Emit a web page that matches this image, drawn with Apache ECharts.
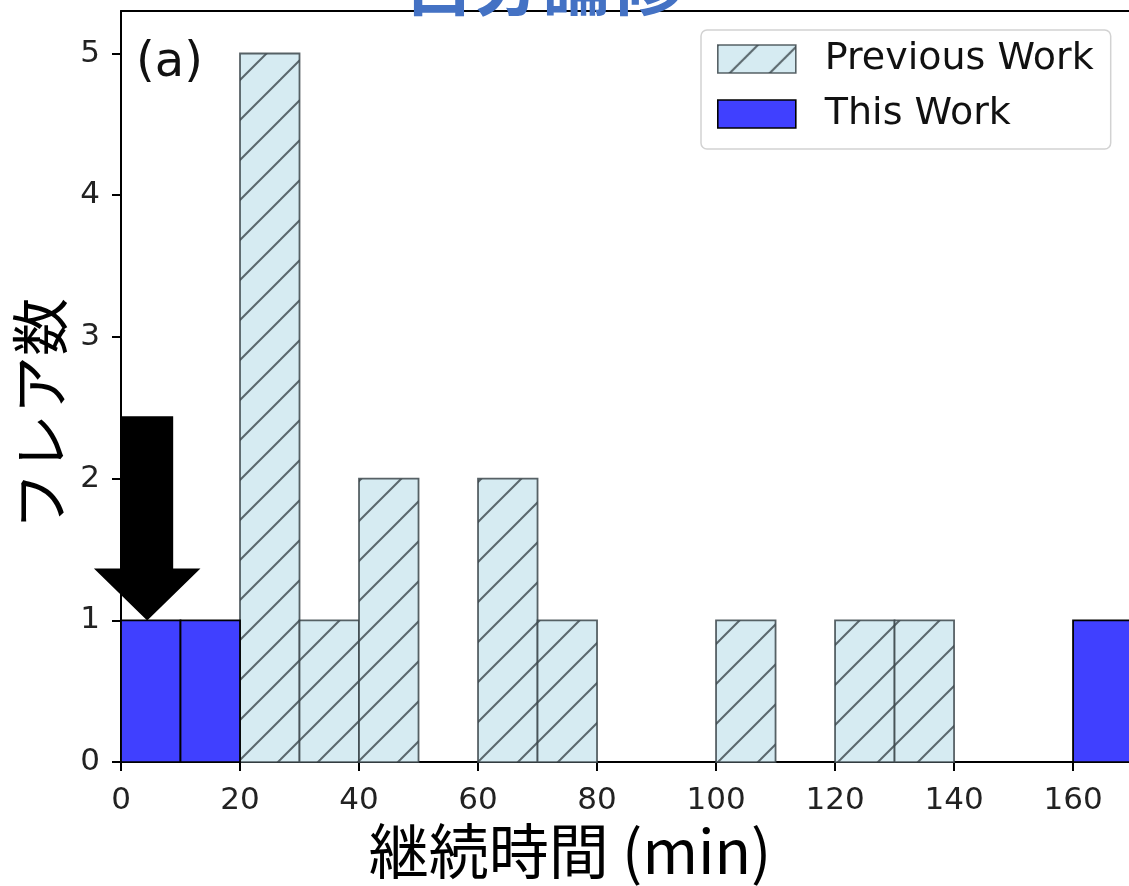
<!DOCTYPE html>
<html>
<head>
<meta charset="utf-8">
<script src="https://cdn.jsdelivr.net/npm/echarts@6/dist/echarts.min.js"></script>
<style>
html,body{margin:0;padding:0;background:#fff;}
#chart{width:1129px;height:886px;}
</style>
</head>
<body>
<div id="chart"></div>
<script>
// ---- data ----
const binStarts = [0,10,20,30,40,50,60,70,80,90,100,110,120,130,140,150,160];
const binWidth = 10;
const previousWorkCounts = [0,0,5,1,2,0,2,1,0,0,1,0,1,1,0,0,0];
const thisWorkCounts     = [1,1,0,0,0,0,0,0,0,0,0,0,0,0,0,0,1];
const xTickValues = [0,20,40,60,80,100,120,140,160];
const yTickValues = [0,1,2,3,4,5];
const seriesNames = ['Previous Work','This Work'];
const titleText = '自分論修';
const panelLabel = '(a)';
const xAxisTitle = '継続時間 (min)';
const yAxisTitle = 'フレア数';
// arrow annotation (data units)
const arrowTip = [4.4, 1];
const arrowTailY = 2.44;
const arrowHeadBaseY = 1.366;
const arrowShaftHalf = 4.37;
const arrowHeadHalf = 8.95;

// hatch pattern
function makeHatch(){
  const s = 40;
  const c = document.createElement('canvas');
  c.width = s; c.height = s;
  const g = c.getContext('2d');
  g.fillStyle = '#d6ebf2';
  g.fillRect(0,0,s,s);
  g.strokeStyle = 'rgba(55,65,70,0.78)';
  g.lineWidth = 2;
  [0, s, 2*s].forEach(k => {
    g.beginPath();
    g.moveTo(k + 2, -2);
    g.lineTo(k - s - 2, s + 2);
    g.stroke();
  });
  return c;
}
const hatch = {image: makeHatch(), repeat: 'repeat'};
const prevStyle = {fill: hatch, stroke: 'rgba(60,70,75,0.85)', lineWidth: 1.8};
const thisStyle = {fill: '#4040ff', stroke: '#000', lineWidth: 1.8};

function histData(counts){
  const out = [];
  counts.forEach((c,i) => { if (c > 0) out.push([binStarts[i], binStarts[i] + binWidth, c]); });
  return out;
}
function barRenderer(style){
  return function(params, api){
    const p0 = api.coord([api.value(0), api.value(2)]);
    const p1 = api.coord([api.value(1), 0]);
    return {type:'rect', shape:{x:p0[0], y:p0[1], width:p1[0]-p0[0], height:p1[1]-p0[1]}, style: style};
  };
}

const chart = echarts.init(document.getElementById('chart'), null, {renderer:'canvas'});
const tickFont = {fontFamily:'DejaVu Sans', fontSize:31, color:'#222'};
const X_MAX = 169.4;
chart.setOption({
  animation:false,
  backgroundColor:'#fff',
  grid:{left:121, top:11, bottom:122, right:0, show:false},
  xAxis:[{
    type:'value', min:0, max:X_MAX,
    name:xAxisTitle, nameLocation:'middle', nameGap:52,
    nameTextStyle:{fontFamily:'Noto Sans CJK JP', fontSize:60, color:'#000', verticalAlign:'top', padding:[0,110,0,0]},
    axisLine:{show:true, lineStyle:{color:'#000', width:2}},
    axisTick:{show:true, length:9, lineStyle:{color:'#000', width:2}, customValues:xTickValues},
    axisLabel:Object.assign({margin:23, customValues:xTickValues}, tickFont),
    splitLine:{show:false}
  },{
    type:'value', min:0, max:X_MAX, position:'top',
    axisLine:{show:true, lineStyle:{color:'#000', width:2}},
    axisTick:{show:false}, axisLabel:{show:false}, splitLine:{show:false}
  }],
  yAxis:{
    type:'value', min:0, max:5.3,
    name:yAxisTitle, nameLocation:'middle', nameGap:42, nameRotate:90,
    nameTextStyle:{fontFamily:'Noto Sans CJK JP', fontSize:58, color:'#000', padding:[0,55,0,0]},
    axisLine:{show:true, lineStyle:{color:'#000', width:2}},
    axisTick:{show:true, length:9, lineStyle:{color:'#000', width:2}, customValues:yTickValues},
    axisLabel:Object.assign({margin:21, customValues:yTickValues}, tickFont),
    splitLine:{show:false}
  },
  legend:{
    show:true, orient:'vertical', left:701, top:30,
    padding:[10,17,16,16], itemGap:17, itemWidth:78, itemHeight:28,
    backgroundColor:'#fff', borderColor:'#d2d2d2', borderWidth:1.5, borderRadius:6,
    textStyle:{fontFamily:'DejaVu Sans', fontSize:38, color:'#111', padding:[0,0,0,24]},
    data:[
      {name:seriesNames[0], icon:'rect', itemStyle:{color:hatch, borderColor:'rgba(60,70,75,0.85)', borderWidth:1.6}},
      {name:seriesNames[1], icon:'rect', itemStyle:{color:'#4040ff', borderColor:'#000', borderWidth:1.6}}
    ]
  },
  graphic:[
    {type:'text', left:136, top:40, z:100, style:{text:panelLabel, font:'48px "DejaVu Sans"', fill:'#111'}},
    {type:'text', x:542, y:-16, z:100, style:{text:titleText, font:'bold 69px "Noto Sans CJK JP"', fill:'#4472c4', align:'center', verticalAlign:'middle'}}
  ],
  series:[
    {name:seriesNames[0], type:'custom', renderItem:barRenderer(prevStyle), data:histData(previousWorkCounts), encode:{x:[0,1], y:2}, itemStyle:{color:hatch}, z:2},
    {name:seriesNames[1], type:'custom', renderItem:barRenderer(thisStyle), data:histData(thisWorkCounts), encode:{x:[0,1], y:2}, itemStyle:{color:'#4040ff'}, z:3},
    {name:'arrow', type:'custom', z:10, silent:true, clip:false,
      data:[[arrowTip[0], arrowTip[1]]],
      renderItem:function(params, api){
        const x = api.value(0), y = api.value(1);
        const pts = [
          [x - arrowShaftHalf, arrowTailY], [x + arrowShaftHalf, arrowTailY],
          [x + arrowShaftHalf, arrowHeadBaseY], [x + arrowHeadHalf, arrowHeadBaseY],
          [x, y],
          [x - arrowHeadHalf, arrowHeadBaseY], [x - arrowShaftHalf, arrowHeadBaseY]
        ].map(p => api.coord(p));
        return {type:'polygon', shape:{points:pts}, style:{fill:'#000', stroke:'none'}};
      }
    }
  ]
});
</script>
</body>
</html>
